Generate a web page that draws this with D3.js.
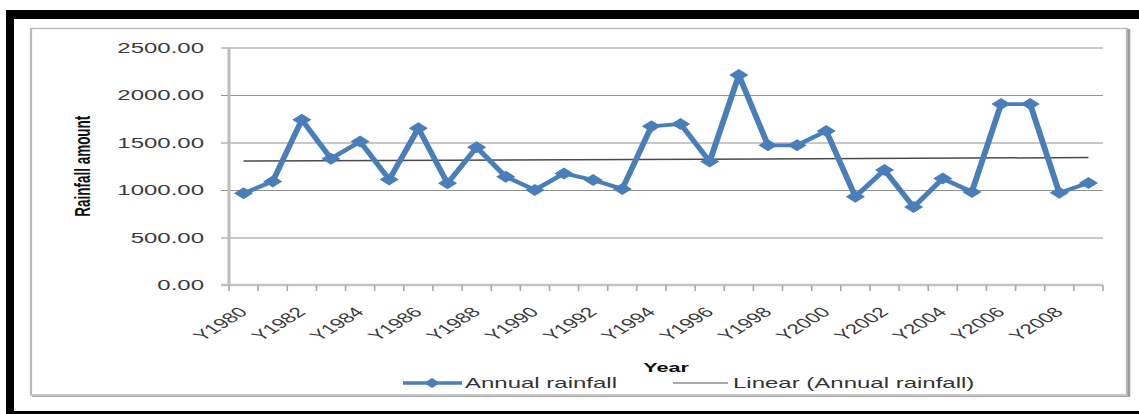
<!DOCTYPE html>
<html>
<head>
<meta charset="utf-8">
<script src="https://cdn.jsdelivr.net/npm/d3@7"></script>
<style>
  html, body { margin: 0; padding: 0; background: #fff; overflow: hidden; }
  text { font-family: "Liberation Sans", Arial, sans-serif; }
</style>
</head>
<body>
<div id="chart"></div>
<script>
// Annual rainfall series, 1980-2009
const years = ["Y1980","Y1981","Y1982","Y1983","Y1984","Y1985","Y1986","Y1987","Y1988","Y1989",
               "Y1990","Y1991","Y1992","Y1993","Y1994","Y1995","Y1996","Y1997","Y1998","Y1999",
               "Y2000","Y2001","Y2002","Y2003","Y2004","Y2005","Y2006","Y2007","Y2008","Y2009"];
const rainfall = [965, 1090, 1740, 1330, 1510, 1110, 1650, 1070, 1450, 1140,
                  1000, 1175, 1105, 1010, 1670, 1695, 1300, 2210, 1470, 1470,
                  1620, 930, 1210, 820, 1120, 980, 1905, 1905, 970, 1075];
const yTicks = [0, 500, 1000, 1500, 2000, 2500];
const seriesName = "Annual rainfall";
const trendName = "Linear (Annual rainfall)";
const xTitle = "Year";
const yTitle = "Rainfall amount";

// The drawing is laid out in a horizontally stretched coordinate system.
const W = 1139, H = 414, SX = 1.6;
const VW = W / SX;
const fx = px => px / SX;

const BLUE = "#4A7EBB";

const svg = d3.select("#chart").append("svg")
  .attr("width", W).attr("height", H)
  .attr("viewBox", `0 0 ${VW} ${H}`)
  .attr("preserveAspectRatio", "none")
  .style("display", "block");

// outer frame
svg.append("rect").attr("x", fx(6)).attr("y", 10).attr("width", VW - fx(6)).attr("height", 9).attr("fill", "#000");
svg.append("rect").attr("x", fx(6)).attr("y", 10).attr("width", fx(8)).attr("height", H - 10).attr("fill", "#000");
svg.append("rect").attr("x", fx(6)).attr("y", 411).attr("width", VW - fx(6)).attr("height", 3).attr("fill", "#000");

// chart area border with shadow on the right and bottom
svg.append("rect")
  .attr("x", fx(31)).attr("y", 28.5).attr("width", fx(1127 - 31)).attr("height", 395 - 28.5)
  .attr("fill", "none").attr("stroke", "#b8b8b8").attr("stroke-width", 1.4);
svg.append("line").attr("x1", fx(1129)).attr("x2", fx(1129)).attr("y1", 29).attr("y2", 397)
  .attr("stroke", "#9c9c9c").attr("stroke-width", fx(2.5));
svg.append("line").attr("x1", fx(32)).attr("x2", fx(1130)).attr("y1", 396.3).attr("y2", 396.3)
  .attr("stroke", "#a8a8a8").attr("stroke-width", 1.2);

// scales
const x = d3.scaleBand().domain(years).range([fx(229), fx(1103)]).padding(0);
const y = d3.scaleLinear().domain([0, 2500]).range([285, 47.5]);
const cx = d => x(d) + x.bandwidth() / 2;
const x0 = x.range()[0], x1 = x.range()[1];

// y axis with gridlines
const yAxis = svg.append("g").attr("transform", `translate(${x0},0)`)
  .call(d3.axisLeft(y).tickValues(yTicks).tickFormat(d3.format(".2f"))
        .tickSize(-(x1 - x0)).tickPadding(fx(25)));
yAxis.select(".domain").remove();
yAxis.selectAll(".tick line").attr("x1", -fx(8)).attr("stroke", "#929292").attr("stroke-width", 1);
yAxis.selectAll(".tick text")
  .attr("font-size", 15).attr("fill", "#3a3a3a")
  .attr("font-family", "'Liberation Sans', Arial, sans-serif");

// axis lines
svg.append("line").attr("x1", x0).attr("x2", x0).attr("y1", y(2500)).attr("y2", y(0) + 1)
  .attr("stroke", "#bdbdbd").attr("stroke-width", fx(3));
svg.append("line").attr("x1", fx(221)).attr("x2", x1).attr("y1", y(0)).attr("y2", y(0))
  .attr("stroke", "#c4c4c4").attr("stroke-width", 2.5);

// category boundary tick marks
svg.append("g").selectAll("line")
  .data(d3.range(years.length + 1))
  .join("line")
  .attr("x1", i => x0 + i * x.step()).attr("x2", i => x0 + i * x.step())
  .attr("y1", y(0)).attr("y2", y(0) + 6)
  .attr("stroke", "#a8a8a8").attr("stroke-width", 1);

// x axis labels (every other year)
const xAxis = svg.append("g").attr("transform", `translate(0,${y(0)})`)
  .call(d3.axisBottom(x).tickSize(0).tickFormat((d, i) => i % 2 === 0 ? d : ""));
xAxis.select(".domain").remove();
xAxis.selectAll(".tick text")
  .attr("x", 0).attr("y", 0).attr("dy", 0)
  .attr("text-anchor", "end")
  .attr("transform", `translate(${fx(5)},28) rotate(-45)`)
  .attr("font-size", 14).attr("fill", "#3a3a3a")
  .attr("font-family", "'Liberation Sans', Arial, sans-serif");

// linear trend (least squares over the series)
const n = rainfall.length;
const mx = d3.mean(d3.range(n));
const my = d3.mean(rainfall);
const slope = d3.sum(rainfall, (v, i) => (i - mx) * (v - my)) / d3.sum(d3.range(n), i => (i - mx) * (i - mx));
const intercept = my - slope * mx;
const trend = [0, n - 1].map(i => ({ k: years[i], v: intercept + slope * i }));
svg.append("path")
  .datum(trend)
  .attr("d", d3.line().x(d => cx(d.k)).y(d => y(d.v)))
  .attr("fill", "none").attr("stroke", "#4a4a4a").attr("stroke-width", 1.5);

// rainfall series
const series = years.map((k, i) => ({ k, v: rainfall[i] }));
svg.append("path")
  .datum(series)
  .attr("d", d3.line().x(d => cx(d.k)).y(d => y(d.v)))
  .attr("fill", "none").attr("stroke", BLUE).attr("stroke-width", 3.8)
  .attr("stroke-linejoin", "round");

const diamond = r => `M0,${-r}L${r},0L0,${r}L${-r},0Z`;
svg.append("g").selectAll("path")
  .data(series)
  .join("path")
  .attr("transform", d => `translate(${cx(d.k)},${y(d.v)})`)
  .attr("d", diamond(6))
  .attr("fill", BLUE);

// axis titles
svg.append("text")
  .attr("x", (x0 + x1) / 2).attr("y", 372)
  .attr("text-anchor", "middle").attr("font-size", 13.5).attr("font-weight", "bold")
  .attr("fill", "#111").text(xTitle);
svg.append("text")
  .attr("transform", `translate(${fx(90)},${(y(0) + y(2500)) / 2}) rotate(-90)`)
  .attr("text-anchor", "middle").attr("font-size", 13.5).attr("font-weight", "bold")
  .attr("fill", "#111").text(yTitle);

// legend
const legend = svg.append("g");
legend.append("line").attr("x1", fx(403)).attr("x2", fx(462)).attr("y1", 383).attr("y2", 383)
  .attr("stroke", BLUE).attr("stroke-width", 3.5);
legend.append("path").attr("transform", `translate(${fx(432)},383)`).attr("d", diamond(5)).attr("fill", BLUE);
legend.append("text").attr("x", fx(465)).attr("y", 388).attr("font-size", 15).attr("fill", "#333").text(seriesName);
legend.append("line").attr("x1", fx(673)).attr("x2", fx(728)).attr("y1", 383).attr("y2", 383)
  .attr("stroke", "#555").attr("stroke-width", 1.2);
legend.append("text").attr("x", fx(733)).attr("y", 388).attr("font-size", 15).attr("fill", "#333").text(trendName);
</script>
</body>
</html>
